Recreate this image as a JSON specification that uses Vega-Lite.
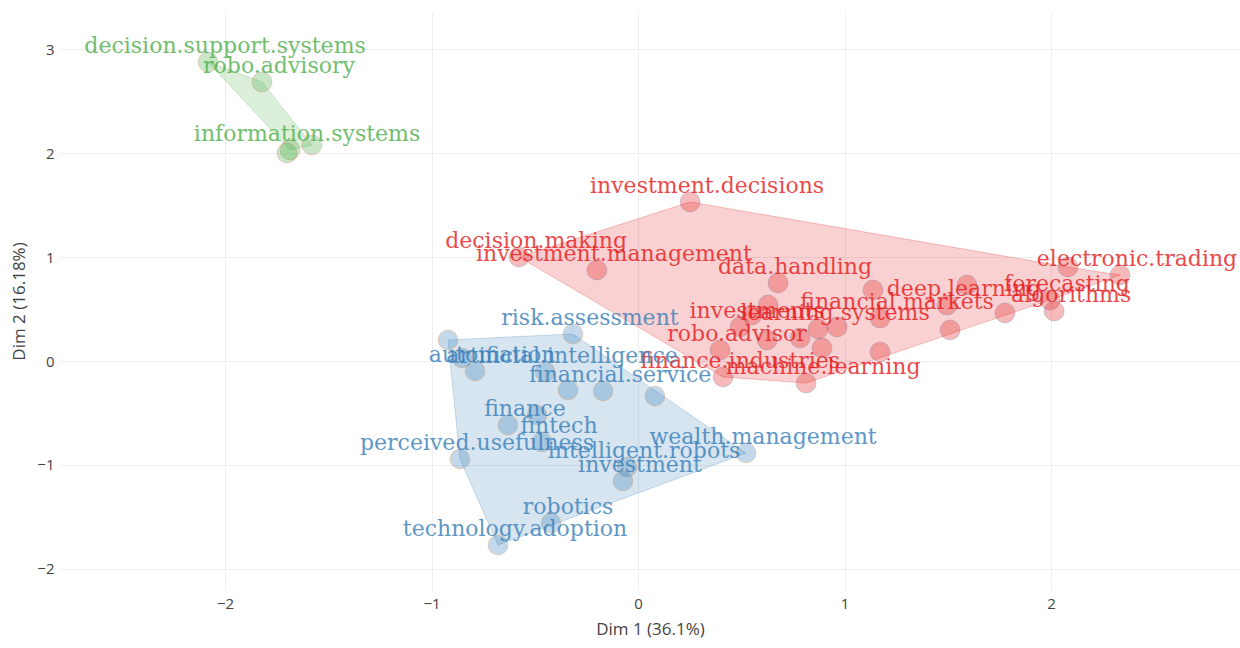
{
  "$schema": "https://vega.github.io/schema/vega-lite/v6.json",
  "width": 1180,
  "height": 578,
  "autosize": {"type": "none"},
  "padding": {"left": 60, "top": 12, "right": 0, "bottom": 58},
  "background": "white",
  "config": {
    "view": {"stroke": null},
    "axis": {
      "grid": true,
      "gridColor": "#eeeeee",
      "gridWidth": 1,
      "domain": false,
      "ticks": false,
      "labelFont": "Open Sans",
      "labelFontSize": 15,
      "labelColor": "#444444",
      "titleFont": "Open Sans",
      "titleFontSize": 17,
      "titleFontWeight": "normal",
      "titleColor": "#444444"
    }
  },
  "datasets": {
    "pts": [
      {"x": 0.252, "y": 1.529, "label": "investment.decisions", "cluster": "1"},
      {"x": -0.576, "y": 1.0, "label": "decision.making", "cluster": "1"},
      {"x": -0.199, "y": 0.875, "label": "investment.management", "cluster": "1"},
      {"x": 0.678, "y": 0.75, "label": "data.handling", "cluster": "1"},
      {"x": 0.494, "y": 0.327, "label": "investments", "cluster": "1"},
      {"x": 0.397, "y": 0.106, "label": "robo.advisor", "cluster": "1"},
      {"x": 0.412, "y": -0.154, "label": "finance.industries", "cluster": "1"},
      {"x": 0.814, "y": -0.212, "label": "machine.learning", "cluster": "1"},
      {"x": 1.172, "y": 0.413, "label": "financial.markets", "cluster": "1"},
      {"x": 0.872, "y": 0.308, "label": "learning.systems", "cluster": "1"},
      {"x": 1.496, "y": 0.538, "label": "deep.learning", "cluster": "1"},
      {"x": 1.995, "y": 0.587, "label": "forecasting", "cluster": "1"},
      {"x": 2.334, "y": 0.827, "label": "electronic.trading", "cluster": "1"},
      {"x": 2.015, "y": 0.481, "label": "algorithms", "cluster": "1"},
      {"x": 0.63, "y": 0.538, "label": "", "cluster": "1"},
      {"x": 0.552, "y": 0.442, "label": "", "cluster": "1"},
      {"x": 0.625, "y": 0.202, "label": "", "cluster": "1"},
      {"x": 0.785, "y": 0.221, "label": "", "cluster": "1"},
      {"x": 0.891, "y": 0.125, "label": "", "cluster": "1"},
      {"x": 0.964, "y": 0.327, "label": "", "cluster": "1"},
      {"x": 1.138, "y": 0.683, "label": "", "cluster": "1"},
      {"x": 1.172, "y": 0.087, "label": "", "cluster": "1"},
      {"x": 1.511, "y": 0.298, "label": "", "cluster": "1"},
      {"x": 1.593, "y": 0.731, "label": "", "cluster": "1"},
      {"x": 1.777, "y": 0.462, "label": "", "cluster": "1"},
      {"x": 2.082, "y": 0.904, "label": "", "cluster": "1"},
      {"x": -0.315, "y": 0.26, "label": "risk.assessment", "cluster": "2"},
      {"x": -0.789, "y": -0.096, "label": "automation", "cluster": "2"},
      {"x": -0.45, "y": -0.106, "label": "artificial.intelligence", "cluster": "2"},
      {"x": -0.169, "y": -0.288, "label": "financial.service", "cluster": "2"},
      {"x": -0.63, "y": -0.615, "label": "finance", "cluster": "2"},
      {"x": -0.465, "y": -0.779, "label": "fintech", "cluster": "2"},
      {"x": -0.862, "y": -0.942, "label": "perceived.usefulness", "cluster": "2"},
      {"x": -0.053, "y": -1.019, "label": "intelligent.robots", "cluster": "2"},
      {"x": -0.073, "y": -1.154, "label": "investment", "cluster": "2"},
      {"x": 0.523, "y": -0.885, "label": "wealth.management", "cluster": "2"},
      {"x": -0.421, "y": -1.558, "label": "robotics", "cluster": "2"},
      {"x": -0.678, "y": -1.769, "label": "technology.adoption", "cluster": "2"},
      {"x": -0.92, "y": 0.202, "label": "", "cluster": "2"},
      {"x": -0.852, "y": 0.029, "label": "", "cluster": "2"},
      {"x": -0.339, "y": -0.279, "label": "", "cluster": "2"},
      {"x": 0.082, "y": -0.337, "label": "", "cluster": "2"},
      {"x": -0.489, "y": -0.519, "label": "", "cluster": "2"},
      {"x": -2.082, "y": 2.875, "label": "decision.support.systems", "cluster": "3"},
      {"x": -1.821, "y": 2.683, "label": "robo.advisory", "cluster": "3"},
      {"x": -1.685, "y": 2.029, "label": "information.systems", "cluster": "3"},
      {"x": -1.7, "y": 2.0, "label": "", "cluster": "3"},
      {"x": -1.579, "y": 2.077, "label": "", "cluster": "3"}
    ],
    "hull": [
      {"cluster": "1", "o": 1, "x": -0.576, "y": 1.0},
      {"cluster": "1", "o": 2, "x": 0.252, "y": 1.529},
      {"cluster": "1", "o": 3, "x": 2.082, "y": 0.904},
      {"cluster": "1", "o": 4, "x": 2.334, "y": 0.827},
      {"cluster": "1", "o": 5, "x": 1.995, "y": 0.587},
      {"cluster": "1", "o": 6, "x": 0.814, "y": -0.212},
      {"cluster": "1", "o": 7, "x": 0.412, "y": -0.154},
      {"cluster": "1", "o": 8, "x": -0.576, "y": 1.0},
      {"cluster": "2", "o": 1, "x": -0.92, "y": 0.202},
      {"cluster": "2", "o": 2, "x": -0.315, "y": 0.26},
      {"cluster": "2", "o": 3, "x": 0.523, "y": -0.885},
      {"cluster": "2", "o": 4, "x": -0.678, "y": -1.769},
      {"cluster": "2", "o": 5, "x": -0.862, "y": -0.942},
      {"cluster": "2", "o": 6, "x": -0.92, "y": 0.202},
      {"cluster": "3", "o": 1, "x": -2.082, "y": 2.875},
      {"cluster": "3", "o": 2, "x": -1.821, "y": 2.683},
      {"cluster": "3", "o": 3, "x": -1.579, "y": 2.077},
      {"cluster": "3", "o": 4, "x": -1.685, "y": 2.029},
      {"cluster": "3", "o": 5, "x": -2.082, "y": 2.875}
    ]
  },
  "layer": [
    {
      "data": {"name": "hull"},
      "mark": {"type": "line", "strokeWidth": 1, "strokeOpacity": 0.25, "fillOpacity": 0.2},
      "encoding": {
        "x": {"field": "x", "type": "quantitative", "scale": {"domain": [-2.799, 2.915], "nice": false, "zero": false}, "axis": {"title": "Dim 1 (36.1%)", "values": [-2, -1, 0, 1, 2], "format": "d", "labelPadding": 6, "titlePadding": 10}},
        "y": {"field": "y", "type": "quantitative", "scale": {"domain": [-2.202, 3.356], "nice": false, "zero": false}, "axis": {"title": "Dim 2 (16.18%)", "values": [-2, -1, 0, 1, 2, 3], "format": "d", "labelPadding": 6, "titlePadding": 8}},
        "detail": {"field": "cluster"},
        "order": {"field": "o", "type": "quantitative"},
        "color": {"field": "cluster", "type": "nominal", "scale": {"domain": ["1", "2", "3"], "range": ["#E41A1C", "#377EB8", "#4DAF4A"]}, "legend": null},
        "fill": {"field": "cluster", "type": "nominal", "scale": {"domain": ["1", "2", "3"], "range": ["#E41A1C", "#377EB8", "#4DAF4A"]}, "legend": null}
      }
    },
    {
      "mark": {"type": "rule", "color": "#555555", "strokeWidth": 1.5},
      "encoding": {"x": {"datum": 0}}
    },
    {
      "mark": {"type": "rule", "color": "#555555", "strokeWidth": 2},
      "encoding": {"y": {"datum": 0}}
    },
    {
      "data": {"name": "pts"},
      "mark": {"type": "circle", "size": 400, "fillOpacity": 0.3, "strokeWidth": 1, "strokeOpacity": 0.25},
      "encoding": {
        "x": {"field": "x", "type": "quantitative"},
        "y": {"field": "y", "type": "quantitative"},
        "color": {"field": "cluster", "type": "nominal", "legend": null},
        "stroke": {"field": "cluster", "type": "nominal", "legend": null}
      }
    },
    {
      "data": {"name": "pts"},
      "mark": {"type": "text", "font": "DejaVu Serif", "fontSize": 22, "dx": 17, "dy": -16, "baseline": "middle", "align": "center", "opacity": 0.8},
      "encoding": {
        "x": {"field": "x", "type": "quantitative"},
        "y": {"field": "y", "type": "quantitative"},
        "text": {"field": "label"},
        "color": {"field": "cluster", "type": "nominal", "legend": null}
      }
    }
  ]
}
